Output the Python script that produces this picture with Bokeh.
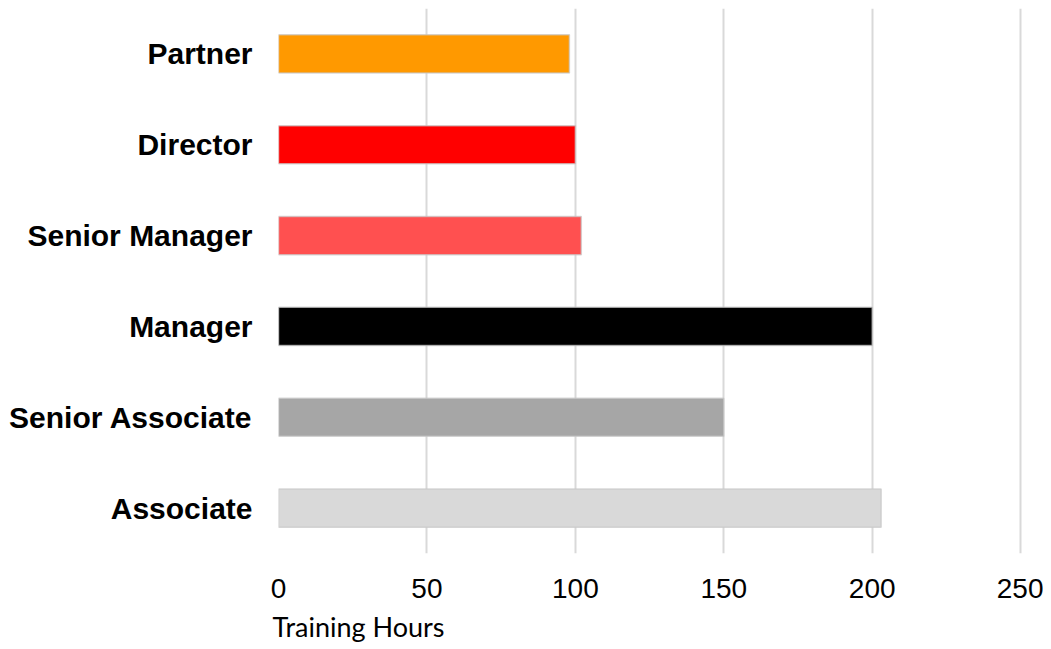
from bokeh.plotting import figure
from bokeh.models import ColumnDataSource, FixedTicker, Range1d, Title
from bokeh.embed import file_html
from bokeh.resources import INLINE

# Data (bottom to top)
categories = ["Associate", "Senior Associate", "Manager", "Senior Manager", "Director", "Partner"]
hours = [203, 150, 200, 102, 100, 98]
colors = ["#D9D9D9", "#A6A6A6", "#000000", "#FF5050", "#FF0000", "#FF9900"]
x_ticks = [0, 50, 100, 150, 200, 250]

source = ColumnDataSource(dict(cat=categories, hours=hours, color=colors))

p = figure(
    y_range=categories,
    x_range=Range1d(0, 255),
    frame_width=757, frame_height=545,
    min_border_left=278, min_border_right=8, min_border_top=8, min_border_bottom=0,
    output_backend="svg", toolbar_location=None,
)
p.y_range.range_padding = 0

p.hbar(y="cat", left=0, right="hours", height=0.42, source=source,
       fill_color="color", line_color="#c8c8c8", line_alpha=0.7, line_width=1.5)

p.outline_line_color = None
p.ygrid.grid_line_color = None
p.xgrid.grid_line_color = "#d9d9d9"
p.xgrid.grid_line_width = 2
p.xaxis.ticker = FixedTicker(ticks=x_ticks)

for ax in (p.xaxis, p.yaxis):
    ax.axis_line_color = None
    ax.major_tick_line_color = None
    ax.minor_tick_line_color = None
    ax.major_tick_out = 0
    ax.major_tick_in = 0

p.yaxis.major_label_text_font = "Liberation Sans"
p.yaxis.major_label_text_font_style = "bold"
p.yaxis.major_label_text_font_size = "30px"
p.yaxis.major_label_text_color = "#000000"
p.yaxis.major_label_standoff = 26

p.xaxis.major_label_text_font = "Liberation Sans"
p.xaxis.major_label_text_font_size = "28px"
p.xaxis.major_label_text_color = "#000000"
p.xaxis.major_label_standoff = 25

t = Title(text="Training Hours", align="left", offset=-6,
          text_font="Lato", text_font_size="27px", text_font_style="normal",
          text_color="#000000", standoff=15)
p.add_layout(t, "below")

open("out.html", "w").write(file_html(p, INLINE))
